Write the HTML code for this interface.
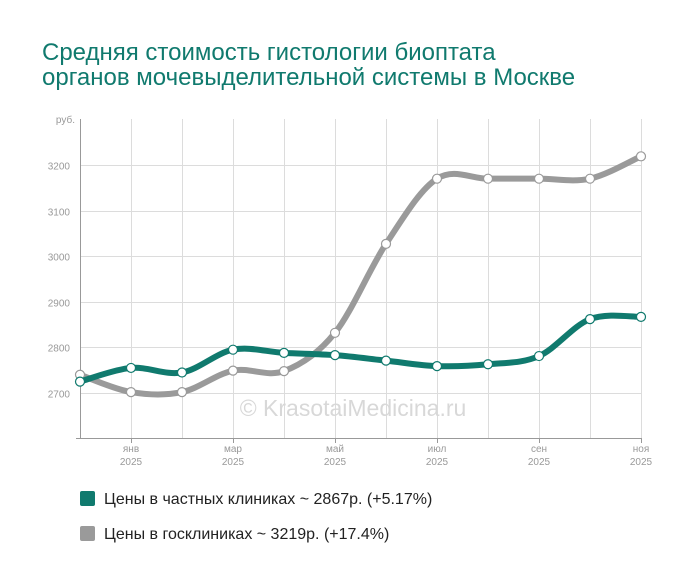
<!DOCTYPE html>
<html><head><meta charset="utf-8"><style>
body{margin:0;background:#fff;width:700px;height:582px;overflow:hidden;font-family:"Liberation Sans",sans-serif}
</style></head><body>
<svg id="s" width="700" height="582" xmlns="http://www.w3.org/2000/svg" font-family="Liberation Sans, sans-serif">
<text x="42" y="60" font-size="24" fill="#107a6e">Средняя стоимость гистологии биоптата</text>
<text x="42" y="85" font-size="24" fill="#107a6e">органов мочевыделительной системы в Москве</text>
<g id="grid" stroke="#dcdcdc" stroke-width="1"></g>
<text x="353" y="416" font-size="23" fill="#d8d8d8" text-anchor="middle">© KrasotaiMedicina.ru</text>
<line x1="80.5" y1="119" x2="80.5" y2="439" stroke="#999"/>
<line x1="76" y1="438.5" x2="641" y2="438.5" stroke="#999"/>
<text x="75" y="123" font-size="10" fill="#999" text-anchor="end">руб.</text>
<g id="ylab" font-size="10" fill="#999" text-anchor="end"></g>
<g id="xlab" font-size="10" fill="#999" text-anchor="middle"></g>
<g id="series"></g>
<rect x="80" y="491" width="15" height="15" rx="2" fill="#107a6e"/>
<text x="104" y="504" font-size="16" fill="#222">Цены в частных клиниках ~ 2867р. (+5.17%)</text>
<rect x="80" y="526" width="15" height="15" rx="2" fill="#9a9a9a"/>
<text x="104" y="539" font-size="16" fill="#222">Цены в госклиниках ~ 3219р. (+17.4%)</text>
</svg>
<script>
var NS="http://www.w3.org/2000/svg";
function el(p,t,a,txt){var e=document.createElementNS(NS,t);for(var k in a)e.setAttribute(k,a[k]);if(txt)e.textContent=txt;document.getElementById(p).appendChild(e);return e;}
function Y(v){return 393-(v-2700)*0.456;}
var xs=[];for(var i=0;i<12;i++)xs.push(80+i*51);
for(var i=1;i<12;i++)el("grid","line",{x1:xs[i]+.5,y1:119,x2:xs[i]+.5,y2:438});
for(var v=2700;v<=3200;v+=100){var y=Math.round(Y(v))+.5;el("grid","line",{x1:80,y1:y,x2:641,y2:y});el("ylab","text",{x:70,y:y+4},String(v));}
var m=["янв","мар","май","июл","сен","ноя"];
for(var j=0;j<6;j++){var x=xs[1+2*j];el("xlab","line",{x1:x+.5,y1:438,x2:x+.5,y2:443,stroke:"#999"});el("xlab","text",{x:x,y:452},m[j]);el("xlab","text",{x:x,y:465},"2025");}
function draw(vals,col){var p=vals.map(function(v,i){return [xs[i],Y(v)]});
var d="M"+p[0][0]+","+p[0][1];
for(var i=0;i<p.length-1;i++){var p0=p[Math.max(0,i-1)],p1=p[i],p2=p[i+1],p3=p[Math.min(p.length-1,i+2)];
var c1=[p1[0]+(p2[0]-p0[0])/6,p1[1]+(p2[1]-p0[1])/6],c2=[p2[0]-(p3[0]-p1[0])/6,p2[1]-(p3[1]-p1[1])/6];
d+=" C"+c1+" "+c2+" "+p2;}
el("series","path",{d:d,fill:"none",stroke:col,"stroke-width":6,"stroke-linecap":"round"});
p.forEach(function(q){el("series","circle",{cx:q[0],cy:q[1],r:4.5,fill:"#fff",stroke:col,"stroke-width":1.2});});}
draw([2740,2702,2702,2749,2748,2832,3027,3170,3170,3170,3170,3219],"#9a9a9a");
draw([2725,2755,2745,2795,2788,2783,2771,2759,2763,2781,2862,2867],"#107a6e");
</script>
</body></html>
